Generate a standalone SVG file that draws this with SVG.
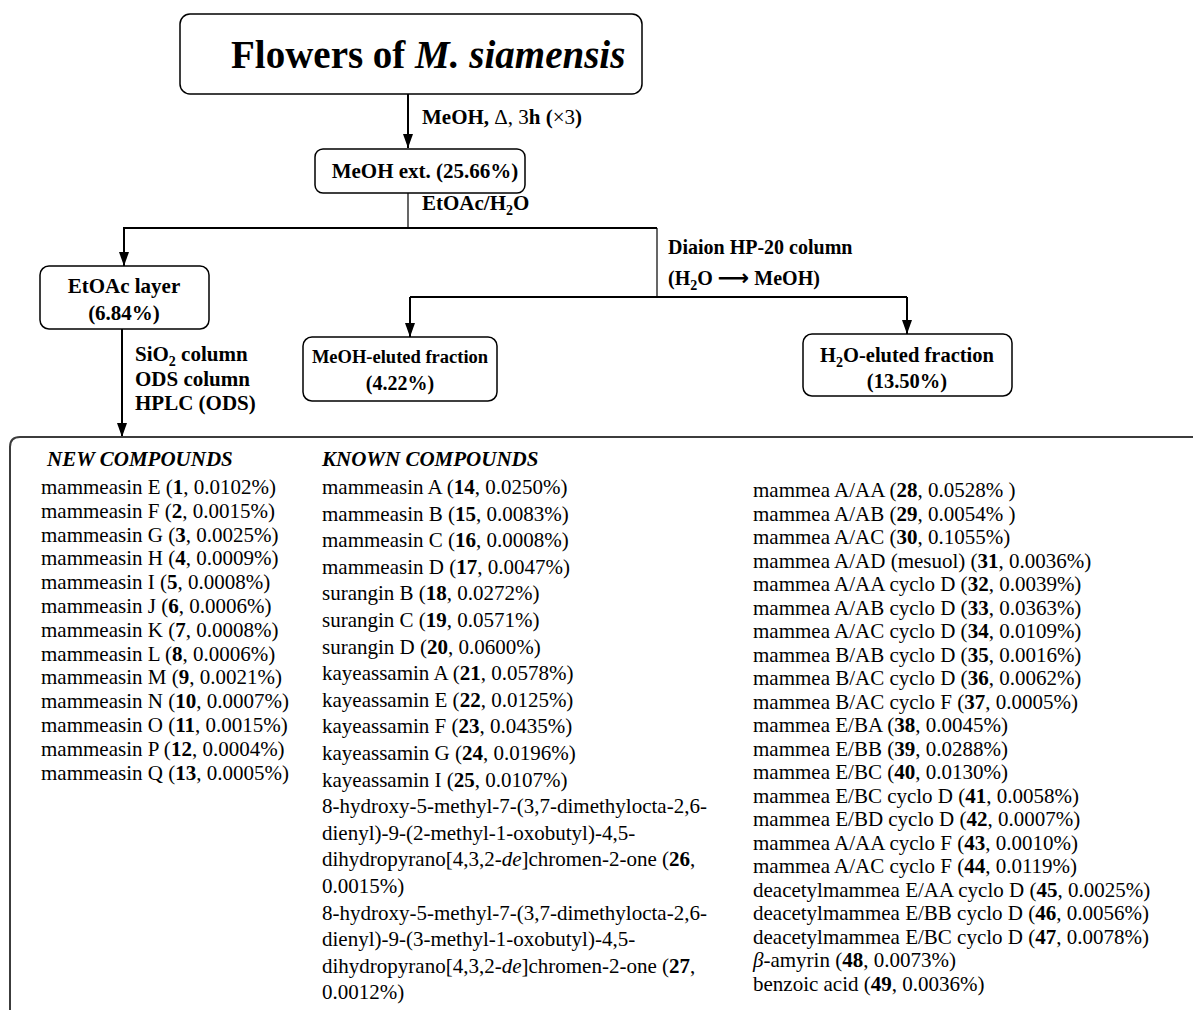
<svg xmlns="http://www.w3.org/2000/svg" width="1193" height="1010" viewBox="0 0 1193 1010">
<style>
.box{fill:#fff;stroke:#000;stroke-width:1.5}
.ln{fill:none;stroke:#000;stroke-width:2}
.thin{fill:none;stroke:#000;stroke-width:1.2}
.lbl{font-family:"Liberation Serif","Times New Roman",serif;font-size:21px;font-weight:bold;fill:#000}
.ttl{font-family:"Liberation Serif","Times New Roman",serif;font-size:39px;font-weight:bold;fill:#000}
.hd{font-family:"Liberation Serif","Times New Roman",serif;font-size:21px;font-weight:bold;font-style:italic;fill:#000}
.t{font-family:"Liberation Serif","Times New Roman",serif;font-size:21px;fill:#000}
.b{font-weight:bold}
.i{font-style:italic}
.n{font-weight:normal}
</style>
<defs>
<marker id="ah" viewBox="0 0 14 10" refX="14" refY="5" markerWidth="14" markerHeight="10" markerUnits="userSpaceOnUse" orient="auto">
<path d="M0,0 L14,5 L0,10 z" fill="#000"/>
</marker>
</defs>

<g id="connectors">
<path class="ln" d="M408 94 V148" marker-end="url(#ah)"/>
<path class="thin" d="M408 193 V228"/>
<path class="ln" d="M657 228 H124 V266" marker-end="url(#ah)"/>
<path class="thin" d="M657 228 V297"/>
<path class="ln" d="M410 297 H907"/>
<path class="ln" d="M410 297 V337" marker-end="url(#ah)"/>
<path class="ln" d="M907 297 V334" marker-end="url(#ah)"/>
<path class="ln" d="M122 329 V437" marker-end="url(#ah)"/>
<text class="lbl" x="422" y="124" font-size="20">MeOH, <tspan class="n">Δ, 3</tspan>h (<tspan class="n">×3</tspan>)</text>
<text class="lbl" x="422" y="210">EtOAc/H<tspan font-size="14" dy="5">2</tspan><tspan dy="-5">O</tspan></text>
<text class="lbl" x="668" y="254" style="font-size:20px">Diaion HP-20 column</text>
<text class="lbl" x="668" y="285" style="font-size:20px">(H<tspan font-size="14" dy="5">2</tspan><tspan dy="-5">O </tspan><tspan style="font-family:'DejaVu Sans',sans-serif;font-size:22px">⟶</tspan> MeOH)</text>
<text class="lbl" x="135" y="361">SiO<tspan font-size="14" dy="5">2</tspan><tspan dy="-5"> column</tspan></text>
<text class="lbl" x="135" y="386">ODS column</text>
<text class="lbl" x="135" y="410">HPLC (ODS)</text>
</g>

<g id="node-flowers">
<rect class="box" x="180" y="14" width="462" height="80" rx="10"/>
<text class="ttl" x="231" y="68">Flowers of <tspan class="i">M. siamensis</tspan></text>
</g>

<g id="node-meoh-ext">
<rect class="box" x="315" y="149" width="210" height="44" rx="8"/>
<text class="lbl" x="425" y="178" text-anchor="middle">MeOH ext. (25.66%)</text>
</g>

<g id="node-etoac">
<rect class="box" x="40" y="266" width="169" height="63" rx="9"/>
<text class="lbl" x="124" y="293" text-anchor="middle">EtOAc layer</text>
<text class="lbl" x="124" y="320" text-anchor="middle">(6.84%)</text>
</g>

<g id="node-meoh-eluted">
<rect class="box" x="303" y="337" width="194" height="64" rx="9"/>
<text class="lbl" x="400" y="363" text-anchor="middle" style="font-size:18.5px">MeOH-eluted fraction</text>
<text class="lbl" x="400" y="390" text-anchor="middle" style="font-size:20px">(4.22%)</text>
</g>

<g id="node-h2o-eluted">
<rect class="box" x="803" y="334" width="209" height="62" rx="9"/>
<text class="lbl" x="907" y="362" text-anchor="middle" style="font-size:20.5px">H<tspan font-size="14" dy="5">2</tspan><tspan dy="-5">O-eluted fraction</tspan></text>
<text class="lbl" x="907" y="388" text-anchor="middle" style="font-size:20.5px">(13.50%)</text>
</g>

<g id="node-compounds">
<path d="M10 1010 V447 Q10 437 20 437 H1193" fill="none" stroke="#3c3c3c" stroke-width="2"/>
<text class="hd" x="47" y="466">NEW COMPOUNDS</text>
<text class="hd" x="322" y="466">KNOWN COMPOUNDS</text>

<g class="t">
<text x="41" y="494">mammeasin E (<tspan class="b">1</tspan>, 0.0102%)</text>
<text x="41" y="517.8">mammeasin F (<tspan class="b">2</tspan>, 0.0015%)</text>
<text x="41" y="541.6">mammeasin G (<tspan class="b">3</tspan>, 0.0025%)</text>
<text x="41" y="565.4">mammeasin H (<tspan class="b">4</tspan>, 0.0009%)</text>
<text x="41" y="589.2">mammeasin I (<tspan class="b">5</tspan>, 0.0008%)</text>
<text x="41" y="613">mammeasin J (<tspan class="b">6</tspan>, 0.0006%)</text>
<text x="41" y="636.8">mammeasin K (<tspan class="b">7</tspan>, 0.0008%)</text>
<text x="41" y="660.6">mammeasin L (<tspan class="b">8</tspan>, 0.0006%)</text>
<text x="41" y="684.4">mammeasin M (<tspan class="b">9</tspan>, 0.0021%)</text>
<text x="41" y="708.2">mammeasin N (<tspan class="b">10</tspan>, 0.0007%)</text>
<text x="41" y="732">mammeasin O (<tspan class="b">11</tspan>, 0.0015%)</text>
<text x="41" y="755.8">mammeasin P (<tspan class="b">12</tspan>, 0.0004%)</text>
<text x="41" y="779.6">mammeasin Q (<tspan class="b">13</tspan>, 0.0005%)</text>

<text x="322" y="494">mammeasin A (<tspan class="b">14</tspan>, 0.0250%)</text>
<text x="322" y="520.6">mammeasin B (<tspan class="b">15</tspan>, 0.0083%)</text>
<text x="322" y="547.2">mammeasin C (<tspan class="b">16</tspan>, 0.0008%)</text>
<text x="322" y="573.8">mammeasin D (<tspan class="b">17</tspan>, 0.0047%)</text>
<text x="322" y="600.4">surangin B (<tspan class="b">18</tspan>, 0.0272%)</text>
<text x="322" y="627">surangin C (<tspan class="b">19</tspan>, 0.0571%)</text>
<text x="322" y="653.6">surangin D (<tspan class="b">20</tspan>, 0.0600%)</text>
<text x="322" y="680.2">kayeassamin A (<tspan class="b">21</tspan>, 0.0578%)</text>
<text x="322" y="706.8">kayeassamin E (<tspan class="b">22</tspan>, 0.0125%)</text>
<text x="322" y="733.4">kayeassamin F (<tspan class="b">23</tspan>, 0.0435%)</text>
<text x="322" y="760">kayeassamin G (<tspan class="b">24</tspan>, 0.0196%)</text>
<text x="322" y="786.6">kayeassamin I (<tspan class="b">25</tspan>, 0.0107%)</text>
<text x="322" y="813.2">8-hydroxy-5-methyl-7-(3,7-dimethylocta-2,6-</text>
<text x="322" y="839.8">dienyl)-9-(2-methyl-1-oxobutyl)-4,5-</text>
<text x="322" y="866.4">dihydropyrano[4,3,2-<tspan class="i">de</tspan>]chromen-2-one (<tspan class="b">26</tspan>,</text>
<text x="322" y="893">0.0015%)</text>
<text x="322" y="919.6">8-hydroxy-5-methyl-7-(3,7-dimethylocta-2,6-</text>
<text x="322" y="946.2">dienyl)-9-(3-methyl-1-oxobutyl)-4,5-</text>
<text x="322" y="972.8">dihydropyrano[4,3,2-<tspan class="i">de</tspan>]chromen-2-one (<tspan class="b">27</tspan>,</text>
<text x="322" y="999.4">0.0012%)</text>

<text x="753" y="497">mammea A/AA (<tspan class="b">28</tspan>, 0.0528% )</text>
<text x="753" y="520.5">mammea A/AB (<tspan class="b">29</tspan>, 0.0054% )</text>
<text x="753" y="544">mammea A/AC (<tspan class="b">30</tspan>, 0.1055%)</text>
<text x="753" y="567.5">mammea A/AD (mesuol) (<tspan class="b">31</tspan>, 0.0036%)</text>
<text x="753" y="591">mammea A/AA cyclo D (<tspan class="b">32</tspan>, 0.0039%)</text>
<text x="753" y="614.5">mammea A/AB cyclo D (<tspan class="b">33</tspan>, 0.0363%)</text>
<text x="753" y="638">mammea A/AC cyclo D (<tspan class="b">34</tspan>, 0.0109%)</text>
<text x="753" y="661.5">mammea B/AB cyclo D (<tspan class="b">35</tspan>, 0.0016%)</text>
<text x="753" y="685">mammea B/AC cyclo D (<tspan class="b">36</tspan>, 0.0062%)</text>
<text x="753" y="708.5">mammea B/AC cyclo F (<tspan class="b">37</tspan>, 0.0005%)</text>
<text x="753" y="732">mammea E/BA (<tspan class="b">38</tspan>, 0.0045%)</text>
<text x="753" y="755.5">mammea E/BB (<tspan class="b">39</tspan>, 0.0288%)</text>
<text x="753" y="779">mammea E/BC (<tspan class="b">40</tspan>, 0.0130%)</text>
<text x="753" y="802.5">mammea E/BC cyclo D (<tspan class="b">41</tspan>, 0.0058%)</text>
<text x="753" y="826">mammea E/BD cyclo D (<tspan class="b">42</tspan>, 0.0007%)</text>
<text x="753" y="849.5">mammea A/AA cyclo F (<tspan class="b">43</tspan>, 0.0010%)</text>
<text x="753" y="873">mammea A/AC cyclo F (<tspan class="b">44</tspan>, 0.0119%)</text>
<text x="753" y="896.5">deacetylmammea E/AA cyclo D (<tspan class="b">45</tspan>, 0.0025%)</text>
<text x="753" y="920">deacetylmammea E/BB cyclo D (<tspan class="b">46</tspan>, 0.0056%)</text>
<text x="753" y="943.5">deacetylmammea E/BC cyclo D (<tspan class="b">47</tspan>, 0.0078%)</text>
<text x="753" y="967"><tspan class="i">β</tspan>-amyrin (<tspan class="b">48</tspan>, 0.0073%)</text>
<text x="753" y="990.5">benzoic acid (<tspan class="b">49</tspan>, 0.0036%)</text>
</g>
</g>
</svg>
